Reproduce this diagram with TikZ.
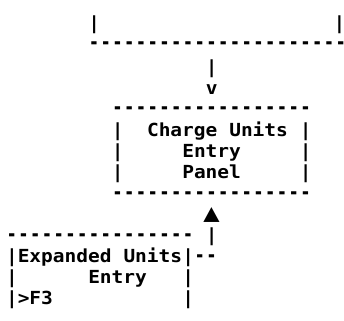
\documentclass[tikz,border=0pt]{standalone}
\usepackage{fontspec}
\newfontfamily\asciifont[FakeStretch=1.084]{DejaVu Sans Mono Bold}
\newcommand\hd{\makebox[11.75pt][c]{\scalebox{0.88}[1.2]{-}}}
\newcommand\hdrow[1]{\foreach \i in {1,...,#1}{\hd}}
\begin{document}
\begin{tikzpicture}[x=1pt,y=1pt,
  txt/.style={anchor=base west, inner sep=0pt, outer sep=0pt, font=\asciifont\fontsize{18pt}{21pt}\selectfont, text=black},
  ctxt/.style={txt, anchor=base}]
\useasboundingbox (0,0) rectangle (344,320);
% row 0
\node[txt] (r0a) at (88.25,290) {|};
\node[txt] (r0b) at (333.5,290) {|};
% row 1
\node[txt] (r1) at (88.25,270) {\hdrow{22}};
% row 2-3: arrow down
\node[txt] (r2) at (205.75,246) {|};
\node[txt] (r3) at (205.75,225) {v};
% Charge Units box
\node[txt] (r4) at (111.75,205) {\hdrow{17}};
\node[txt] (r5a) at (111.75,183) {|};
\node[txt] (r5b) at (147,183) {Charge};
\node[txt] (r5c) at (229.25,183) {Units};
\node[txt] (r5d) at (299.75,183) {|};
\node[txt] (r6a) at (111.75,162) {|};
\node[txt] (r6b) at (182.25,162) {Entry};
\node[txt] (r6c) at (299.75,162) {|};
\node[txt] (r7a) at (111.75,141) {|};
\node[txt] (r7b) at (182.25,141) {Panel};
\node[txt] (r7c) at (299.75,141) {|};
\node[txt] (r8) at (111.75,120) {\hdrow{17}};
% arrow up
\node[ctxt, font=\asciifont\fontsize{25pt}{25pt}\selectfont] (r9) at (211.625,98) {▲};
\node[txt] (r10a) at (6,78) {\hdrow{16}};
\node[txt] (r10b) at (205.75,78) {|};
% Expanded Units box
\node[txt] (r11a) at (6,57) {|};
\node[txt] (r11b) at (17.75,57) {Expanded};
\node[txt] (r11c) at (123.5,57) {Units};
\node[txt] (r11d) at (182.25,57) {|};
\node[txt] (r11e) at (194,57) {\hdrow{2}};
\node[txt] (r12a) at (6,36) {|};
\node[txt] (r12b) at (88.25,36) {Entry};
\node[txt] (r12c) at (182.25,36) {|};
\node[txt] (r13a) at (6,15) {|};
\node[txt] (r13b) at (17.75,15) {>F3};
\node[txt] (r13c) at (182.25,15) {|};
\end{tikzpicture}
\end{document}
